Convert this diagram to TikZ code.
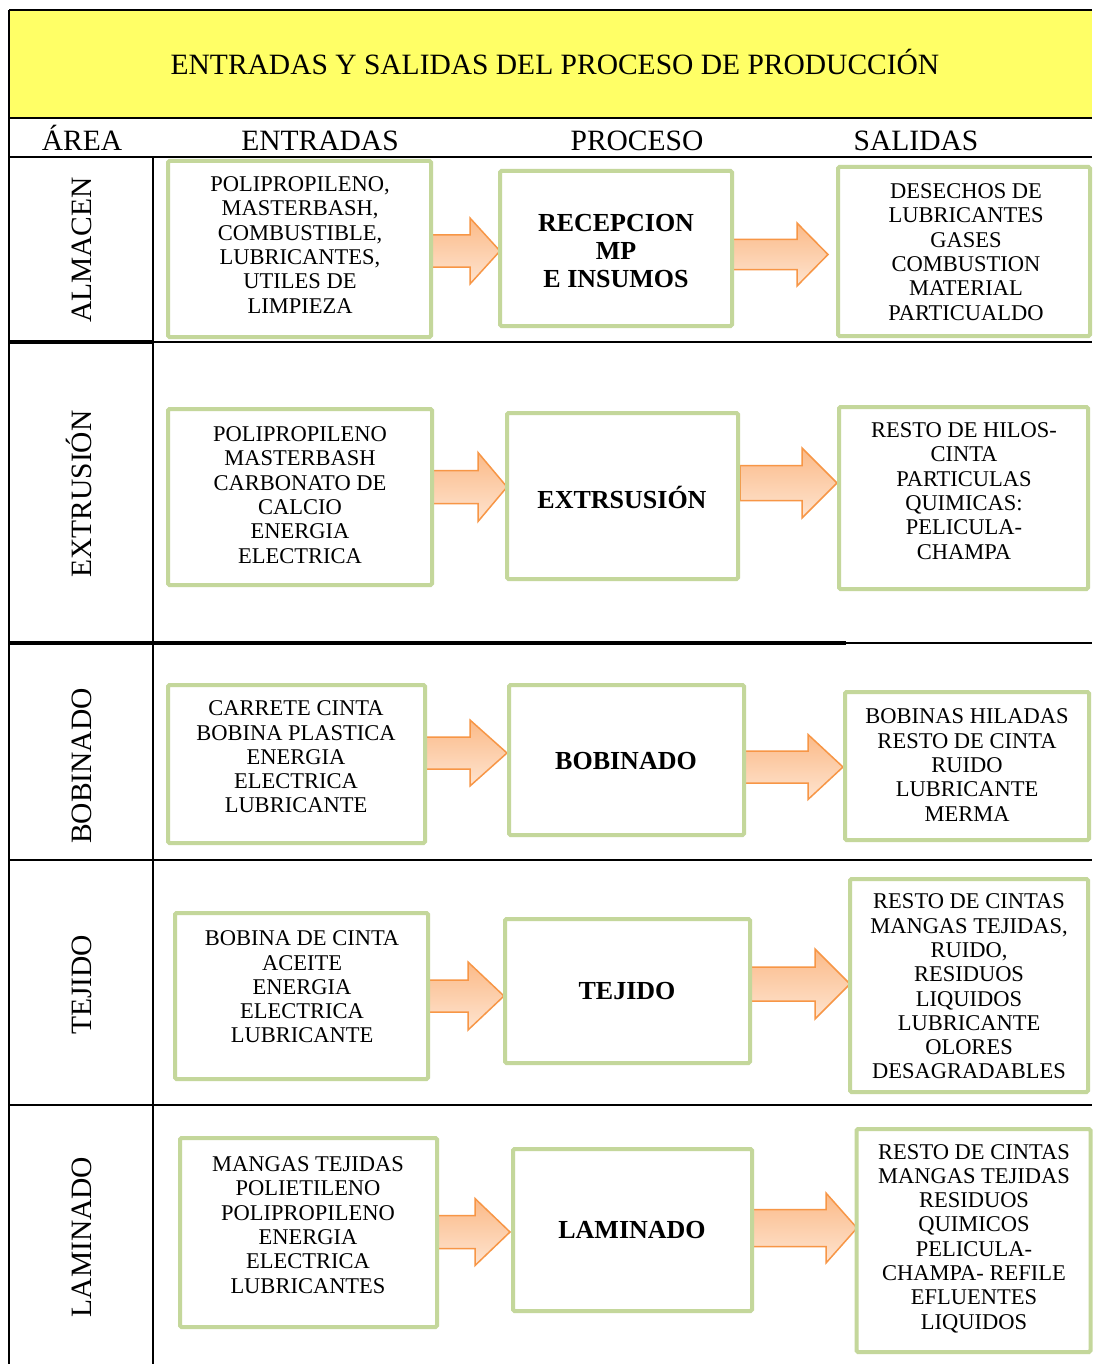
\documentclass[tikz,border=0pt]{standalone}
\usepackage{fontspec}
\setmainfont{Liberation Serif}
\definecolor{hdryellow}{HTML}{FFFF66}
\definecolor{boxgreen}{HTML}{C4D79B}
\definecolor{arrowline}{HTML}{F79646}
\definecolor{arrowtop}{HTML}{FBBA88}
\definecolor{arrowbot}{HTML}{FEE4D0}
\newcommand\blockarr[6]{%
  \draw[barrow] (#1,#4-#5) -- (#3,#4-#5) -- (#3,#4-#6) -- (#2,#4) -- (#3,#4+#6) -- (#3,#4+#5) -- (#1,#4+#5) -- cycle;}
\begin{document}
\begin{tikzpicture}[x=1pt,y=-1pt,
  grid/.style={line width=2.5pt, black},
  gridthick/.style={line width=3.6pt, black},
  gbox/.style={draw=boxgreen, line width=4pt, fill=white, rounded corners=1.5pt, inner sep=0pt},
  txt/.style={font=\fontsize{22.5}{24.3}\selectfont, align=center, inner sep=0pt},
  ptxt/.style={font=\fontsize{26}{28}\selectfont\bfseries, align=center, inner sep=0pt},
  hdr/.style={font=\fontsize{29.5}{32}\selectfont, inner sep=0pt, anchor=base},
  barrow/.style={draw=arrowline, line width=1.5pt, top color=arrowtop, bottom color=arrowbot, line join=miter}]
\useasboundingbox (0,0) rectangle (1092,1364);
\fill[white] (0,0) rectangle (1092,1364);

% header
\fill[hdryellow] (9,10) rectangle (1092,118);
\draw[grid] (9,10) -- (1092,10);
\draw[grid] (9,118) -- (1092,118);
\draw[grid] (9,157) -- (1092,157);
\draw[grid] (9,10) -- (9,1364);
\draw[grid] (153,157) -- (153,1364);
\draw[grid] (153,342) -- (1092,342);
\draw[gridthick] (9,342) -- (153,342);
\draw[gridthick] (9,643) -- (846,643);
\draw[grid] (846,643) -- (1092,643);
\draw[grid] (9,860) -- (1092,860);
\draw[grid] (9,1105) -- (1092,1105);

\node[hdr] (title) at (555,75) {ENTRADAS Y SALIDAS DEL PROCESO DE PRODUCCIÓN};
\node[hdr] (harea) at (82,150.5) {ÁREA};
\node[hdr] (hent) at (320,150.5) {ENTRADAS};
\node[hdr] (hpro) at (637,150.5) {PROCESO};
\node[hdr] (hsal) at (916,150.5) {SALIDAS};

% area labels
\node[hdr, rotate=90] (a1) at (91.5,250) {ALMACEN};
\node[hdr, rotate=90] (a2) at (91.5,494) {EXTRUSIÓN};
\node[hdr, rotate=90] (a3) at (91.5,766) {BOBINADO};
\node[hdr, rotate=90] (a4) at (91.5,985) {TEJIDO};
\node[hdr, rotate=90] (a5) at (91.5,1237) {LAMINADO};

% arrows
\blockarr{432}{500}{470}{251}{16}{33}
\blockarr{733}{828}{797}{254.5}{15}{31.5}
\blockarr{433}{507}{478}{487}{16.5}{34.5}
\blockarr{740}{837}{802}{483}{17.5}{35}
\blockarr{426}{507}{470}{753}{16}{33}
\blockarr{745}{843}{808}{767}{16}{32.5}
\blockarr{429}{504}{468}{996}{16}{34}
\blockarr{751}{850}{815}{984}{17}{35}
\blockarr{438}{510}{475}{1232}{16.5}{33.5}
\blockarr{753}{857}{826}{1228}{18.5}{35}

% row 1
\node[gbox, minimum width=263pt, minimum height=176pt] (e1) at (299.5,249) {};
\node[txt] (e1t) at (300,245) {POLIPROPILENO,\\MASTERBASH,\\COMBUSTIBLE,\\LUBRICANTES,\\UTILES DE\\LIMPIEZA};
\node[gbox, minimum width=232pt, minimum height=155pt] (p1) at (616,248.5) {};
\node[ptxt] (p1t) at (616,251) {RECEPCION\\MP\\E INSUMOS};
\node[gbox, minimum width=252pt, minimum height=169pt] (s1) at (964,251.5) {};
\node[txt] (s1t) at (966,252) {DESECHOS DE\\LUBRICANTES\\GASES\\COMBUSTION\\MATERIAL\\PARTICUALDO};

% row 2
\node[gbox, minimum width=264pt, minimum height=176pt] (e2) at (300,497) {};
\node[txt] (e2t) at (300,495) {POLIPROPILENO\\MASTERBASH\\CARBONATO DE\\CALCIO\\ENERGIA\\ELECTRICA};
\node[gbox, minimum width=231pt, minimum height=166pt] (p2) at (622.5,496) {};
\node[ptxt] (p2t) at (622,497) {EXTRSUSIÓN};
\node[gbox, minimum width=249pt, minimum height=182pt] (s2) at (963.5,498) {};
\node[txt] (s2t) at (964,491) {RESTO DE HILOS-\\CINTA\\PARTICULAS\\QUIMICAS:\\PELICULA-\\CHAMPA};

% row 3
\node[gbox, minimum width=257pt, minimum height=158pt] (e3) at (296.5,764) {};
\node[txt] (e3t) at (296,757) {CARRETE CINTA\\BOBINA PLASTICA\\ENERGIA\\ELECTRICA\\LUBRICANTE};
\node[gbox, minimum width=235pt, minimum height=150pt] (p3) at (626.5,760) {};
\node[ptxt] (p3t) at (626,761) {BOBINADO};
\node[gbox, minimum width=244pt, minimum height=148pt] (s3) at (967,766) {};
\node[txt] (s3t) at (967,765) {BOBINAS HILADAS\\RESTO DE CINTA\\RUIDO\\LUBRICANTE\\MERMA};

% row 4
\node[gbox, minimum width=253pt, minimum height=166pt] (e4) at (301.5,996) {};
\node[txt] (e4t) at (302,987) {BOBINA DE CINTA\\ACEITE\\ENERGIA\\ELECTRICA\\LUBRICANTE};
\node[gbox, minimum width=245pt, minimum height=144pt] (p4) at (627.5,991) {};
\node[ptxt] (p4t) at (627,991) {TEJIDO};
\node[gbox, minimum width=238pt, minimum height=213pt] (s4) at (969,985.5) {};
\node[txt] (s4t) at (969,986.5) {RESTO DE CINTAS\\MANGAS TEJIDAS,\\RUIDO,\\RESIDUOS\\LIQUIDOS\\LUBRICANTE\\OLORES\\DESAGRADABLES};

% row 5
\node[gbox, minimum width=257pt, minimum height=189pt] (e5) at (308.5,1232.5) {};
\node[txt] (e5t) at (308,1225) {MANGAS TEJIDAS\\POLIETILENO\\POLIPROPILENO\\ENERGIA\\ELECTRICA\\LUBRICANTES};
\node[gbox, minimum width=239pt, minimum height=162pt] (p5) at (632.5,1230) {};
\node[ptxt] (p5t) at (632,1230) {LAMINADO};
\node[gbox, minimum width=234pt, minimum height=223pt] (s5) at (973.5,1240.5) {};
\node[txt] (s5t) at (974,1238.5) {RESTO DE CINTAS\\MANGAS TEJIDAS\\RESIDUOS\\QUIMICOS\\PELICULA-\\CHAMPA- REFILE\\EFLUENTES\\LIQUIDOS};
\end{tikzpicture}
\end{document}
